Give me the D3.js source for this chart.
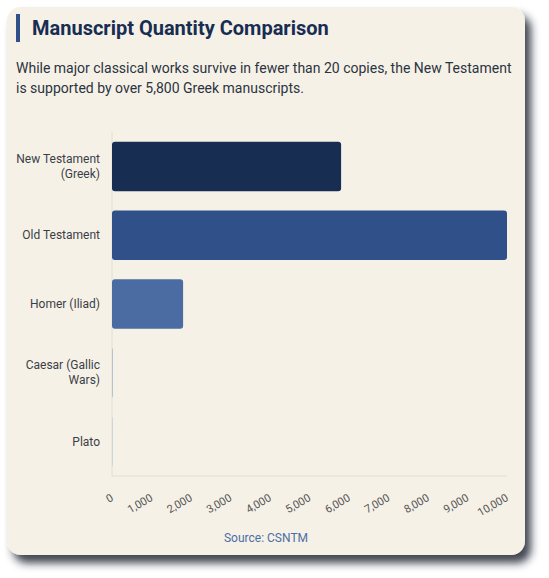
<!DOCTYPE html>
<html><head><meta charset="utf-8">
<script src="https://cdn.jsdelivr.net/npm/d3@7"></script>
<style>
body{margin:0;background:#fff;font-family:Roboto,sans-serif;}
</style></head>
<body><div id="chart"></div>
<script>
// chart data
let categories = ['New Testament (Greek)', 'Old Testament', 'Homer (Iliad)', 'Caesar (Gallic Wars)', 'Plato'];
let labelLines = [['New Testament', '(Greek)'], ['Old Testament'], ['Homer (Iliad)'], ['Caesar (Gallic', 'Wars)'], ['Plato']];
let values = [5800, 10000, 1800, 10, 7];
let barColors = ['#172d52', '#2f5088', '#4a6ca3', '#6a8abd', '#8aa6d0'];
let ticks = [0, 1000, 2000, 3000, 4000, 5000, 6000, 7000, 8000, 9000, 10000];

let svgWidth = 549, svgHeight = 578;
let margin = {top: 132, left: 112, right: 42, bottom: 102};
let width = svgWidth - margin.left - margin.right;
let height = svgHeight - margin.top - margin.bottom;

let svg = d3.select('#chart').append('svg')
  .attr('width', svgWidth).attr('height', svgHeight);

// card with shadow
let defs = svg.append('defs');
let f = defs.append('filter').attr('id', 'sh').attr('x', '-10%').attr('y', '-10%').attr('width', '130%').attr('height', '130%');
f.append('feDropShadow').attr('dx', 6).attr('dy', 8).attr('stdDeviation', 4).attr('flood-color', '#1f2630').attr('flood-opacity', 0.85);
svg.append('rect').attr('x', 7).attr('y', 7).attr('width', 518).attr('height', 548)
  .attr('rx', 14).attr('fill', '#f6f1e7').attr('filter', 'url(#sh)');

// title
svg.append('rect').attr('x', 16).attr('y', 14).attr('width', 4).attr('height', 28).attr('fill', '#2f5088');
svg.append('text').attr('x', 32).attr('y', 35).attr('font-size', 20).attr('font-weight', 700)
  .attr('fill', '#172d52').text('Manuscript Quantity Comparison');
svg.append('text').attr('x', 16).attr('y', 73).attr('font-size', 14).attr('fill', '#2b3440')
  .text('While major classical works survive in fewer than 20 copies, the New Testament');
svg.append('text').attr('x', 16).attr('y', 93).attr('font-size', 14).attr('fill', '#2b3440')
  .text('is supported by over 5,800 Greek manuscripts.');

let g = svg.append('g').attr('transform', `translate(${margin.left},${margin.top})`);

let x = d3.scaleLinear().domain([0, 10000]).range([0, width]);
let y = d3.scaleBand().domain(categories).range([0, height]).paddingInner(0.28).paddingOuter(0.14);

// axis lines
g.append('line').attr('x1', 0).attr('x2', 0).attr('y1', 0).attr('y2', height).attr('stroke', '#e4ddd0');
g.append('line').attr('x1', 0).attr('x2', width).attr('y1', height).attr('y2', height).attr('stroke', '#e4ddd0');

// bars
g.selectAll('.bar').data(values).enter().append('rect')
  .attr('x', 0)
  .attr('y', (d, i) => y(categories[i]))
  .attr('width', d => x(d))
  .attr('height', y.bandwidth())
  .attr('rx', 3)
  .attr('fill', (d, i) => barColors[i]);

// category labels
categories.forEach((c, i) => {
  let lines = labelLines[i];
  let cy = y(c) + y.bandwidth() / 2;
  let t = g.append('text').attr('text-anchor', 'end').attr('font-size', 12).attr('fill', '#3a3f47');
  lines.forEach((l, j) => {
    t.append('tspan').attr('x', -12)
      .attr('y', cy + (j - (lines.length - 1) / 2) * 15 + 4).text(l);
  });
});

// x tick labels
g.selectAll('.tick').data(ticks).enter().append('text')
  .attr('font-size', 11).attr('fill', '#555')
  .attr('text-anchor', 'end')
  .attr('transform', d => `translate(${x(d) + 2},${height + 24}) rotate(-30)`)
  .text(d => d3.format(',')(d));

svg.append('text').attr('x', 266).attr('y', 542).attr('text-anchor', 'middle')
  .attr('font-size', 12).attr('fill', '#4a6fa5').text('Source: CSNTM');
</script></body></html>
